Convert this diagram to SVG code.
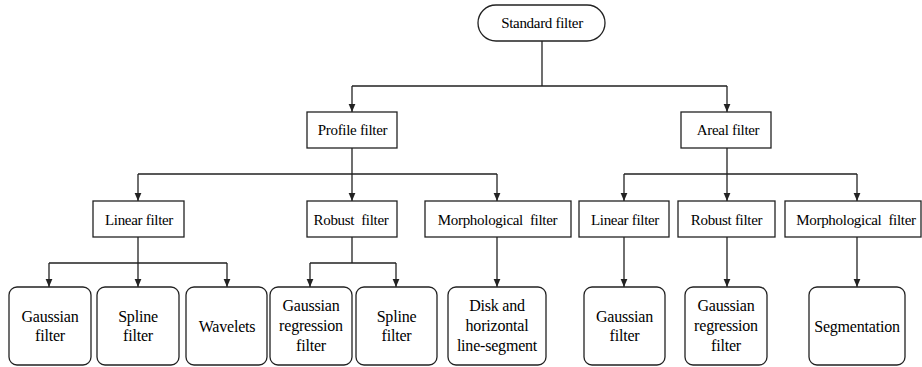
<svg xmlns="http://www.w3.org/2000/svg" width="922" height="367" viewBox="0 0 922 367">
<style>
.box{fill:#fff;stroke:#222;stroke-width:1.3}
.ln{fill:none;stroke:#222;stroke-width:1.3}
.t1{font-size:15px;letter-spacing:-0.3px}
.t2{font-size:16px;letter-spacing:-0.2px}
</style>
<defs>
<marker id="ah" viewBox="0 0 10 10" refX="10" refY="5" markerWidth="8.5" markerHeight="8" markerUnits="userSpaceOnUse" orient="auto">
<path d="M0,0.8 L10,5 L0,9.2 z" fill="#222"/>
</marker>
</defs>
<rect width="922" height="367" fill="#fff"/>
<g id="connectors">
<path class="ln" d="M542,41 V86 M352,86 H727"/>
<path class="ln" marker-end="url(#ah)" d="M352,86 V112"/>
<path class="ln" marker-end="url(#ah)" d="M727,86 V112"/>
<path class="ln" d="M352,148 V174 M138,174 H497"/>
<path class="ln" marker-end="url(#ah)" d="M138,174 V201"/>
<path class="ln" marker-end="url(#ah)" d="M352,174 V201"/>
<path class="ln" marker-end="url(#ah)" d="M497,174 V201"/>
<path class="ln" d="M727,148 V174 M624,174 H857"/>
<path class="ln" marker-end="url(#ah)" d="M624,174 V201"/>
<path class="ln" marker-end="url(#ah)" d="M727,174 V201"/>
<path class="ln" marker-end="url(#ah)" d="M857,174 V201"/>
<path class="ln" d="M138,237 V263 M49,263 H227"/>
<path class="ln" marker-end="url(#ah)" d="M49,263 V287"/>
<path class="ln" marker-end="url(#ah)" d="M138,263 V287"/>
<path class="ln" marker-end="url(#ah)" d="M227,263 V287"/>
<path class="ln" d="M352,237 V263 M310,263 H396"/>
<path class="ln" marker-end="url(#ah)" d="M310,263 V287"/>
<path class="ln" marker-end="url(#ah)" d="M396,263 V287"/>
<path class="ln" marker-end="url(#ah)" d="M497,237 V287"/>
<path class="ln" marker-end="url(#ah)" d="M624,237 V287"/>
<path class="ln" marker-end="url(#ah)" d="M727,237 V287"/>
<path class="ln" marker-end="url(#ah)" d="M857,237 V287"/>
</g>
<g id="standard"><rect class="box" x="478" y="5" width="127" height="36" rx="18"/><text class="t1" font-family="Liberation Serif" text-anchor="middle" x="542" y="28">Standard filter</text></g>
<g id="profile"><rect class="box" x="307" y="112" width="90" height="36"/><text class="t1" font-family="Liberation Serif" text-anchor="middle" x="352.5" y="135">Profile filter</text></g>
<g id="areal"><rect class="box" x="681" y="112" width="90" height="36"/><text class="t1" font-family="Liberation Serif" text-anchor="middle" x="728" y="135">Areal filter</text></g>
<g id="p-linear"><rect class="box" x="93" y="201" width="91" height="36"/><text class="t1" font-family="Liberation Serif" text-anchor="middle" x="139" y="224.5">Linear filter</text></g>
<g id="p-robust"><rect class="box" x="307" y="201" width="90" height="36"/><text class="t1" font-family="Liberation Serif" text-anchor="middle" x="351" y="224.5">Robust&#160; filter</text></g>
<g id="p-morph"><rect class="box" x="425" y="201" width="146" height="36"/><text class="t1" font-family="Liberation Serif" text-anchor="middle" x="497.5" y="224.5">Morphological&#160; filter</text></g>
<g id="a-linear"><rect class="box" x="579" y="201" width="90" height="36"/><text class="t1" font-family="Liberation Serif" text-anchor="middle" x="625" y="224.5">Linear filter</text></g>
<g id="a-robust"><rect class="box" x="678" y="201" width="97" height="36"/><text class="t1" font-family="Liberation Serif" text-anchor="middle" x="726.5" y="224.5">Robust filter</text></g>
<g id="a-morph"><rect class="box" x="785" y="201" width="136" height="36"/><text class="t1" font-family="Liberation Serif" text-anchor="middle" x="856" y="224.5">Morphological&#160; filter</text></g>
<g id="gauss1"><rect class="box" x="9" y="287" width="82" height="78" rx="8"/><text class="t2" font-family="Liberation Serif" text-anchor="middle" x="50" y="321.5">Gaussian</text><text class="t2" font-family="Liberation Serif" text-anchor="middle" x="50" y="341">filter</text></g>
<g id="spline1"><rect class="box" x="97" y="287" width="82" height="78" rx="8"/><text class="t2" font-family="Liberation Serif" text-anchor="middle" x="138" y="321.5">Spline</text><text class="t2" font-family="Liberation Serif" text-anchor="middle" x="138" y="341">filter</text></g>
<g id="wavelets"><rect class="box" x="186" y="287" width="81" height="78" rx="8"/><text class="t2" font-family="Liberation Serif" text-anchor="middle" x="227" y="331.5">Wavelets</text></g>
<g id="gaussreg1"><rect class="box" x="270" y="287" width="82" height="78" rx="8"/><text class="t2" font-family="Liberation Serif" text-anchor="middle" x="311" y="311">Gaussian</text><text class="t2" font-family="Liberation Serif" text-anchor="middle" x="311" y="331">regression</text><text class="t2" font-family="Liberation Serif" text-anchor="middle" x="311" y="351">filter</text></g>
<g id="spline2"><rect class="box" x="356" y="287" width="81" height="78" rx="8"/><text class="t2" font-family="Liberation Serif" text-anchor="middle" x="396.5" y="321.5">Spline</text><text class="t2" font-family="Liberation Serif" text-anchor="middle" x="396.5" y="341">filter</text></g>
<g id="disk"><rect class="box" x="448" y="287" width="98" height="78" rx="8"/><text class="t2" font-family="Liberation Serif" text-anchor="middle" x="497" y="311">Disk and</text><text class="t2" font-family="Liberation Serif" text-anchor="middle" x="497" y="331">horizontal</text><text class="t2" font-family="Liberation Serif" text-anchor="middle" x="497" y="351">line-segment</text></g>
<g id="gauss2"><rect class="box" x="584" y="287" width="81" height="78" rx="8"/><text class="t2" font-family="Liberation Serif" text-anchor="middle" x="624.5" y="321.5">Gaussian</text><text class="t2" font-family="Liberation Serif" text-anchor="middle" x="624.5" y="341">filter</text></g>
<g id="gaussreg2"><rect class="box" x="685" y="287" width="82" height="78" rx="8"/><text class="t2" font-family="Liberation Serif" text-anchor="middle" x="726" y="311">Gaussian</text><text class="t2" font-family="Liberation Serif" text-anchor="middle" x="726" y="331">regression</text><text class="t2" font-family="Liberation Serif" text-anchor="middle" x="726" y="351">filter</text></g>
<g id="segmentation"><rect class="box" x="809" y="287" width="96" height="78" rx="8"/><text class="t2" font-family="Liberation Serif" text-anchor="middle" x="857" y="331.5">Segmentation</text></g>
</svg>
